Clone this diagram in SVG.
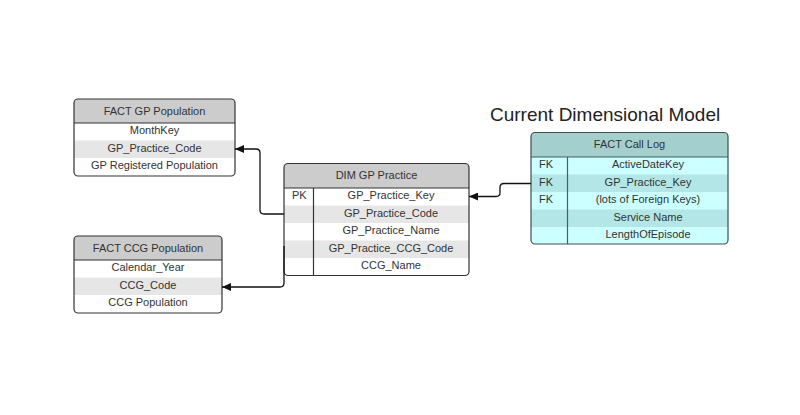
<svg xmlns="http://www.w3.org/2000/svg" width="800" height="415" viewBox="0 0 800 415">
<style>
text{font-family:"Liberation Sans",Arial,sans-serif;font-size:11px;fill:#333}
.c{text-anchor:middle}
.hd{fill:#cccccc}
.alt{fill:#e6e6e6}
.box{fill:none;stroke:#333;stroke-width:1.2}
.ln{stroke:#333;stroke-width:1.2}
.tl{fill:#a3cfcc}
.ta{fill:#ccffff}
.tb{fill:#b3e6e6}
.conn{fill:none;stroke:#111;stroke-width:1.3;marker-end:url(#arr)}
.title{font-size:19px;fill:#222}
</style>
<defs>
<marker id="arr" markerWidth="9" markerHeight="8" refX="9" refY="4" orient="auto" markerUnits="userSpaceOnUse">
<path d="M0,0 L9,4 L0,8 z" fill="#111"/>
</marker>
</defs>
<rect width="800" height="415" fill="#fff"/>

<text x="490" y="121" class="title">Current Dimensional Model</text>

<g id="fact-gp-population">
<rect x="74" y="99" width="161" height="77" rx="4" fill="#fff"/>
<path d="M74,123 V103 Q74,99 78,99 H231 Q235,99 235,103 V123 Z" class="hd"/>
<rect x="74" y="140.5" width="161" height="17.5" class="alt"/>
<line x1="74" y1="123" x2="235" y2="123" class="ln"/>
<rect x="74" y="99" width="161" height="77" rx="4" class="box"/>
<text x="154.5" y="114.5" class="c">FACT GP Population</text>
<text x="154.5" y="134" class="c">MonthKey</text>
<text x="154.5" y="152" class="c">GP_Practice_Code</text>
<text x="154.5" y="169" class="c">GP Registered Population</text>
</g>

<g id="fact-ccg-population">
<rect x="74" y="236" width="148" height="77" rx="4" fill="#fff"/>
<path d="M74,260 V240 Q74,236 78,236 H218 Q222,236 222,240 V260 Z" class="hd"/>
<rect x="74" y="277.5" width="148" height="17.5" class="alt"/>
<line x1="74" y1="260" x2="222" y2="260" class="ln"/>
<rect x="74" y="236" width="148" height="77" rx="4" class="box"/>
<text x="148" y="251.5" class="c">FACT CCG Population</text>
<text x="148" y="271" class="c">Calendar_Year</text>
<text x="148" y="289" class="c">CCG_Code</text>
<text x="148" y="306" class="c">CCG Population</text>
</g>

<g id="dim-gp-practice">
<rect x="284" y="163.5" width="185" height="112" rx="4" fill="#fff"/>
<path d="M284,188 V167.5 Q284,163.5 288,163.5 H465 Q469,163.5 469,167.5 V188 Z" class="hd"/>
<rect x="284" y="205.5" width="185" height="17.5" class="alt"/>
<rect x="284" y="240.5" width="185" height="17.5" class="alt"/>
<line x1="284" y1="188" x2="469" y2="188" class="ln"/>
<line x1="313.5" y1="188" x2="313.5" y2="275.5" class="ln"/>
<rect x="284" y="163.5" width="185" height="112" rx="4" class="box"/>
<text x="376.5" y="179" class="c">DIM GP Practice</text>
<text x="292" y="199">PK</text>
<text x="391" y="199" class="c">GP_Practice_Key</text>
<text x="391" y="216.5" class="c">GP_Practice_Code</text>
<text x="391" y="234" class="c">GP_Practice_Name</text>
<text x="391" y="251.5" class="c">GP_Practice_CCG_Code</text>
<text x="391" y="269" class="c">CCG_Name</text>
</g>

<g id="fact-call-log">
<rect x="531" y="132.5" width="197" height="111.5" rx="4" class="ta"/>
<path d="M531,157 V136.5 Q531,132.5 535,132.5 H724 Q728,132.5 728,136.5 V157 Z" class="tl"/>
<rect x="531" y="174.5" width="197" height="17.5" class="tb"/>
<rect x="531" y="209.5" width="197" height="17.5" class="tb"/>
<line x1="531" y1="157" x2="728" y2="157" stroke="#4a5e5e" stroke-width="1.2"/>
<line x1="567.5" y1="157" x2="567.5" y2="244" stroke="#4a5e5e" stroke-width="1.2"/>
<rect x="531" y="132.5" width="197" height="111.5" rx="4" fill="none" stroke="#3f4f4f" stroke-width="1.2"/>
<text x="629.5" y="148" class="c">FACT Call Log</text>
<text x="539" y="168">FK</text>
<text x="539" y="185.5">FK</text>
<text x="539" y="203">FK</text>
<text x="648" y="168" class="c">ActiveDateKey</text>
<text x="648" y="185.5" class="c">GP_Practice_Key</text>
<text x="648" y="203" class="c">(lots of Foreign Keys)</text>
<text x="648" y="220.5" class="c">Service Name</text>
<text x="648" y="238" class="c">LengthOfEpisode</text>
</g>

<g id="connectors">
<path d="M284,214 H264 Q260,214 260,210 V153 Q260,149 256,149 H235" class="conn"/>
<path d="M284,246 V283 Q284,287 280,287 H222" class="conn"/>
<path d="M531,183.5 H504 Q500,183.5 500,187.5 V192.5 Q500,196.5 496,196.5 H469" class="conn"/>
</g>
</svg>
